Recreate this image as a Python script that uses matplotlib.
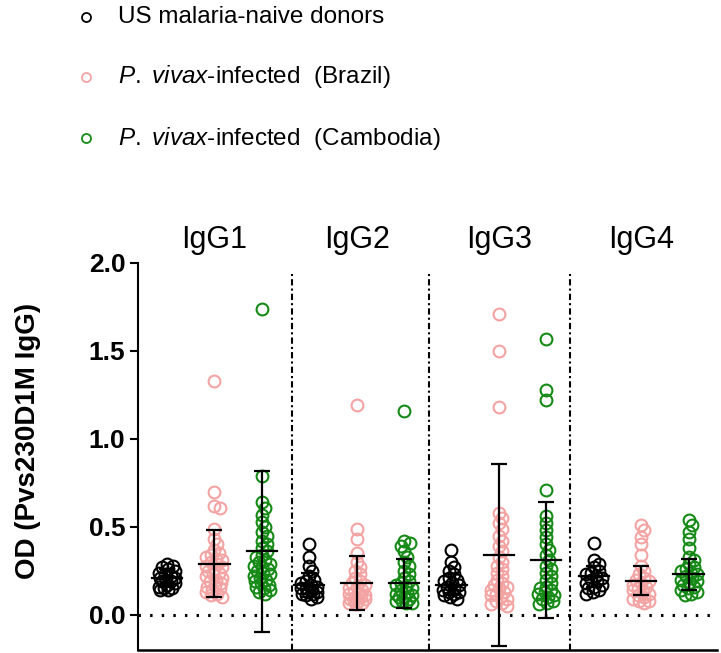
import matplotlib
matplotlib.use("Agg")
import matplotlib.pyplot as plt
from matplotlib.lines import Line2D
import numpy as np

plt.rcParams['font.family'] = ['Liberation Sans', 'DejaVu Sans']
plt.rcParams['mathtext.fontset'] = 'custom'
plt.rcParams['mathtext.it'] = 'Liberation Sans:italic'
plt.rcParams['mathtext.rm'] = 'Liberation Sans'

subclasses = ["IgG1", "IgG2", "IgG3", "IgG4"]
group_labels = ["US malaria-naive donors",
                r"$\it{P.}$ $\it{vivax}$-infected  (Brazil)",
                r"$\it{P.}$ $\it{vivax}$-infected  (Cambodia)"]
colors = ["black", "#f4a3a3", "#168a16"]

# OD values per subclass
us_naive = [
    [0.29, 0.28, 0.27, 0.26, 0.25, 0.24, 0.23, 0.22, 0.21, 0.21, 0.20, 0.19, 0.19, 0.18, 0.17, 0.16, 0.15, 0.15, 0.14, 0.14],
    [0.40, 0.33, 0.28, 0.25, 0.22, 0.20, 0.19, 0.18, 0.17, 0.16, 0.15, 0.15, 0.14, 0.13, 0.13, 0.12, 0.12, 0.11, 0.10, 0.09],
    [0.37, 0.30, 0.27, 0.25, 0.23, 0.21, 0.20, 0.19, 0.18, 0.17, 0.16, 0.15, 0.14, 0.13, 0.13, 0.12, 0.11, 0.10, 0.09],
    [0.41, 0.31, 0.29, 0.27, 0.25, 0.24, 0.23, 0.22, 0.21, 0.20, 0.19, 0.18, 0.17, 0.16, 0.15, 0.14, 0.13, 0.12],
]
brazil = [
    [1.33, 0.70, 0.62, 0.61, 0.49, 0.43, 0.40, 0.37, 0.35, 0.34, 0.33, 0.32, 0.31, 0.30, 0.29, 0.28, 0.27, 0.26, 0.25,
     0.24, 0.23, 0.22, 0.21, 0.20, 0.19, 0.18, 0.17, 0.16, 0.15, 0.14, 0.13, 0.12, 0.11, 0.10],
    [1.19, 0.49, 0.43, 0.35, 0.30, 0.27, 0.25, 0.23, 0.21, 0.19, 0.18, 0.17, 0.16, 0.15, 0.14, 0.13, 0.12, 0.12, 0.11,
     0.10, 0.10, 0.09, 0.09, 0.08, 0.08, 0.07, 0.07, 0.06],
    [1.71, 1.50, 1.18, 0.58, 0.55, 0.52, 0.49, 0.45, 0.42, 0.39, 0.36, 0.33, 0.30, 0.28, 0.26, 0.24, 0.22, 0.20, 0.18,
     0.17, 0.16, 0.15, 0.14, 0.13, 0.12, 0.11, 0.10, 0.09, 0.08, 0.07, 0.06, 0.05],
    [0.51, 0.48, 0.44, 0.40, 0.34, 0.28, 0.25, 0.23, 0.21, 0.20, 0.19, 0.18, 0.17, 0.16, 0.15, 0.14, 0.13, 0.12, 0.11,
     0.10, 0.09, 0.08, 0.08, 0.07],
]
cambodia = [
    [1.74, 0.79, 0.64, 0.61, 0.57, 0.53, 0.50, 0.47, 0.45, 0.42, 0.40, 0.38, 0.36, 0.34, 0.33, 0.31, 0.30, 0.29, 0.28,
     0.27, 0.26, 0.25, 0.24, 0.23, 0.22, 0.21, 0.20, 0.19, 0.18, 0.17, 0.16, 0.15, 0.14, 0.13, 0.12],
    [1.16, 0.42, 0.41, 0.39, 0.36, 0.33, 0.30, 0.28, 0.25, 0.23, 0.21, 0.19, 0.18, 0.17, 0.16, 0.15, 0.14, 0.13, 0.12,
     0.11, 0.10, 0.10, 0.09, 0.08, 0.08, 0.07, 0.07],
    [1.57, 1.28, 1.22, 0.71, 0.56, 0.52, 0.48, 0.44, 0.40, 0.37, 0.34, 0.31, 0.28, 0.26, 0.24, 0.22, 0.20, 0.18, 0.16,
     0.15, 0.14, 0.13, 0.12, 0.11, 0.10, 0.09, 0.08, 0.07, 0.06],
    [0.54, 0.51, 0.47, 0.43, 0.38, 0.33, 0.31, 0.29, 0.27, 0.26, 0.25, 0.24, 0.23, 0.22, 0.21, 0.20, 0.19, 0.18, 0.17,
     0.16, 0.15, 0.14, 0.13, 0.12, 0.11],
]

# mean and SD as drawn in the picture
us_mean = [0.21, 0.17, 0.17, 0.22]
us_sd = [0.05, 0.07, 0.06, 0.06]
br_mean = [0.29, 0.18, 0.34, 0.195]
br_sd = [0.19, 0.155, 0.52, 0.085]
ca_mean = [0.36, 0.18, 0.31, 0.23]
ca_sd = [0.46, 0.14, 0.33, 0.09]

series = [us_naive, brazil, cambodia]
means = [us_mean, br_mean, ca_mean]
sds = [us_sd, br_sd, ca_sd]


def swarm(values, px_per_x, px_per_y, min_dist=6.0, max_off=8.0, step=1.0):
    # deterministic beeswarm in pixel space, spread capped at +-max_off px
    order = np.argsort(values)[::-1]
    cands = [0.0]
    k = 1
    while k * step <= max_off:
        cands += [k * step, -k * step]
        k += 1
    placed = []
    offs = np.zeros(len(values))
    for i in order:
        y = values[i] * px_per_y
        best, best_d = None, -1
        for c in cands:
            d = min([np.hypot(c - px, y - py) for px, py in placed] + [99.0])
            if d >= min_dist:
                best = c
                break
            if d > best_d:
                best, best_d = c, d
        placed.append((best, y))
        offs[i] = best / px_per_x
    return offs


fig = plt.figure(figsize=(7.21, 6.53), dpi=100)
ax = fig.add_axes([138 / 721, 1 - 650 / 653, 579 / 721, 387 / 653])
ax.set_xlim(-0.61, 11.6)
ax.set_ylim(-0.2, 2.0)

px_per_x = 579 / 12.21
px_per_y = 387 / 2.2

for s in range(4):
    for g in range(3):
        pos = s * 3 + g
        vals = np.array(series[g][s])
        xs = pos + swarm(vals, px_per_x, px_per_y)
        ax.plot(xs, vals, 'o', ms=8.5, mfc='none', mec=colors[g], mew=1.5, zorder=2, clip_on=False)
        m, sd = means[g][s], sds[g][s]
        ax.errorbar([pos], [m], yerr=[sd], fmt='none', ecolor='black', elinewidth=1.6,
                    capsize=6, capthick=1.6, zorder=3, clip_on=False)
        ax.plot([pos - 0.32, pos + 0.32], [m, m], color='black', lw=1.6, zorder=3)
    ax.text(s * 3 + 1, 2.13, subclasses[s], ha='center', va='center', fontsize=22)

for sep in [2.64, 5.53, 8.5]:
    ax.axvline(sep, ymin=0.0, ymax=0.975, color='black', lw=1.5, linestyle=(0, (3, 1.5, 1, 1.5)), zorder=1)

ax.axhline(0, color='black', lw=2.2, linestyle=(0, (0.8, 3.0)), zorder=1)

ax.spines['top'].set_visible(False)
ax.spines['right'].set_visible(False)
ax.spines['left'].set_linewidth(1.5)
ax.spines['bottom'].set_linewidth(1.8)
ax.set_xticks([])
ax.set_yticks([0.0, 0.5, 1.0, 1.5, 2.0])
ax.set_yticklabels(["0.0", "0.5", "1.0", "1.5", "2.0"], fontsize=19, fontweight='bold')
ax.tick_params(axis='y', length=6, width=1.5, pad=3)
ax.set_ylabel("OD (Pvs230D1M IgG)", fontsize=20, fontweight='bold')
ax.yaxis.set_label_coords(-0.168, 0.54)

# legend drawn by hand at the top
leg_y = [17, 77, 138]
for g in range(3):
    yf = 1 - leg_y[g] / 653
    fig.add_artist(Line2D([86 / 721], [yf], transform=fig.transFigure, marker='o', ms=6.5,
                          mfc='none', mec=colors[g], mew=1.3, linestyle='none'))
    fig.text(118 / 721, yf, group_labels[g], fontsize=17.5, va='center', ha='left')

fig.savefig("out.png", dpi=100)
